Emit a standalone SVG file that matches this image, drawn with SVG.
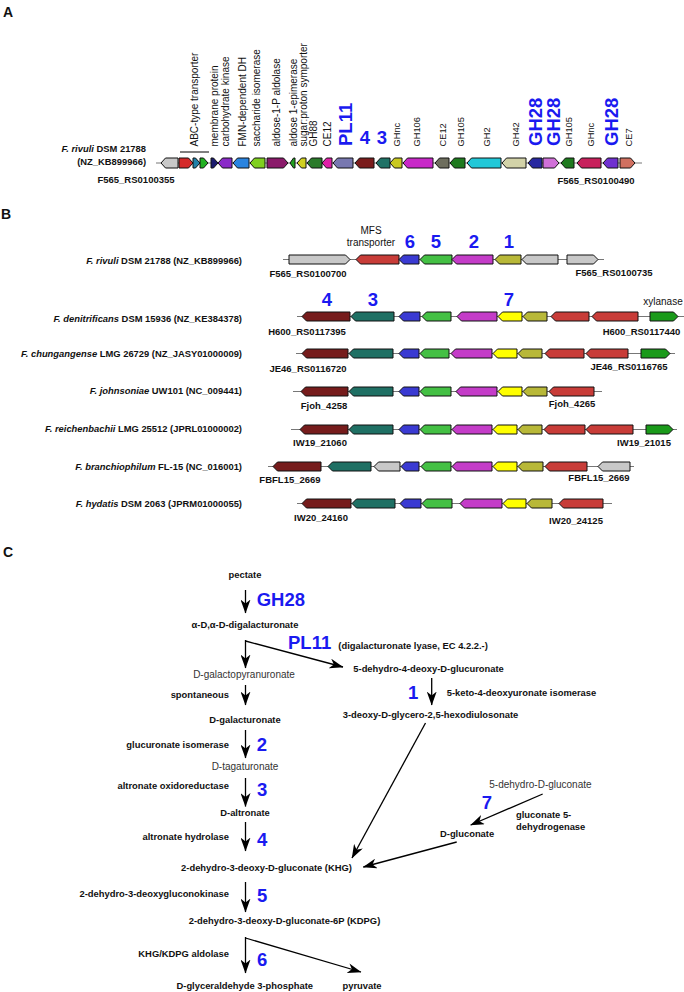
<svg xmlns="http://www.w3.org/2000/svg" width="684" height="992" viewBox="0 0 684 992">
<defs>
<marker id="ah" markerUnits="userSpaceOnUse" markerWidth="14" markerHeight="10" viewBox="0 0 14 10" refX="13.5" refY="5" orient="auto">
<path d="M0,0 L14,5 L0,10 L4,5 Z" fill="#000"/>
</marker>
</defs>
<style>
text{font-family:"Liberation Sans",Arial,Helvetica,sans-serif;fill:#111}
.pl{font-size:14px;font-weight:bold}
.sp{font-size:9.4px;font-weight:bold}
.lt{font-size:9.5px;font-weight:bold}
.ga{font-size:10px}
.gb{font-size:9.3px}
.bl{font-size:18.5px;font-weight:bold;fill:#1a1af0}
.cb{font-size:9.4px;font-weight:bold}
.cg{font-size:10px;fill:#333}
.bb{stroke:#777;stroke-width:1;fill:none}
polygon{stroke:#111;stroke-width:1}
.grey{fill:#c8c8c8}.red{fill:#c83c38}.blu{fill:#3a3ad2}.grn{fill:#44c044}.mag{fill:#c43cc8}.olv{fill:#b8b838}.yel{fill:#ffff00}.drd{fill:#761c1c}.tea{fill:#1f7064}.xgr{fill:#1a9a1a}
.ar{stroke:#000;stroke-width:1.3;fill:none;marker-end:url(#ah)}
</style>
<rect width="684" height="992" fill="#fff"/>

<!-- Panel A -->
<text class="pl" x="3" y="17">A</text>
<g id="A-labels">
<text class="sp" x="146" y="152" text-anchor="end"><tspan font-style="italic">F. rivuli</tspan> DSM 21788</text>
<text class="sp" x="146" y="164.5" text-anchor="end">(NZ_KB899966)</text>
<text class="lt" x="136" y="183" text-anchor="middle">F565_RS0100355</text>
<text class="lt" x="596" y="184" text-anchor="middle">F565_RS0100490</text>
<line x1="180" y1="152" x2="209" y2="152" stroke="#000" stroke-width="1"/>
<text class="ga" transform="translate(197.8,146.5) rotate(-90)">ABC-type transporter</text>
<text class="ga" transform="translate(217.5,146.5) rotate(-90)">membrane protein</text>
<text class="ga" transform="translate(229.2,146.5) rotate(-90)">carbohydrate kinase</text>
<text class="ga" transform="translate(245.5,146.5) rotate(-90)">FMN-dependent DH</text>
<text class="ga" transform="translate(260.2,146.5) rotate(-90)">saccharide isomerase</text>
<text class="ga" transform="translate(279.5,146.5) rotate(-90)">aldose-1-P aldolase</text>
<text class="ga" transform="translate(296.5,146.5) rotate(-90)">aldose 1-epimerase</text>
<text class="ga" transform="translate(306.5,146.5) rotate(-90)">sugar:proton symporter</text>
<text class="ga" transform="translate(316.5,146.5) rotate(-90)">GH88</text>
<text class="ga" transform="translate(330.5,146.5) rotate(-90)">CE12</text>
<text class="bl" transform="translate(351.7,146) rotate(-90)">PL11</text>
<text class="bl" x="365" y="143.5" text-anchor="middle">4</text>
<text class="bl" x="382" y="143.5" text-anchor="middle">3</text>
<text class="gb" transform="translate(399.5,146.5) rotate(-90)">GHnc</text>
<text class="gb" transform="translate(419.5,146.5) rotate(-90)">GH106</text>
<text class="gb" transform="translate(445.5,146.5) rotate(-90)">CE12</text>
<text class="gb" transform="translate(463.5,146.5) rotate(-90)">GH105</text>
<text class="gb" transform="translate(489.5,146.5) rotate(-90)">GH2</text>
<text class="gb" transform="translate(518.5,146.5) rotate(-90)">GH42</text>
<text class="bl" transform="translate(541.7,146) rotate(-90)">GH28</text>
<text class="bl" transform="translate(559.7,146) rotate(-90)">GH28</text>
<text class="gb" transform="translate(571.5,146.5) rotate(-90)">GH105</text>
<text class="gb" transform="translate(593.5,146.5) rotate(-90)">GHnc</text>
<text class="bl" transform="translate(617.7,146) rotate(-90)">GH28</text>
<text class="gb" transform="translate(631.5,146.5) rotate(-90)">CE7</text>
</g>
<g id="A-track">
<line class="bb" x1="156" y1="163" x2="642" y2="163"/>
<polygon fill="#c8c8c8" points="178,158 165.5,158 161,163 165.5,168 178,168"/>
<polygon fill="#d42a2a" points="179,158 188.5,158 193,163 188.5,168 179,168"/>
<polygon fill="#1f80a8" points="193,158 195.5,158 200,163 195.5,168 193,168"/>
<polygon fill="#22b022" points="200,158 203.5,158 208,163 203.5,168 200,168"/>
<polygon fill="#1c1c6e" points="211,158 213.5,158 218,163 213.5,168 211,168"/>
<polygon fill="#8a2ac8" points="232,158 222.5,158 218,163 222.5,168 232,168"/>
<polygon fill="#2a84e0" points="249,158 237.5,158 233,163 237.5,168 249,168"/>
<polygon fill="#80d020" points="265,158 254.5,158 250,163 254.5,168 265,168"/>
<polygon fill="#8a1a6a" points="267,158 283.5,158 288,163 283.5,168 267,168"/>
<polygon fill="#22a022" points="295,158 293.5,158 290,163 293.5,168 295,168"/>
<polygon fill="#d0d020" points="306,158 301.5,158 297,163 301.5,168 306,168"/>
<polygon fill="#2a7a2a" points="322,158 311.5,158 307,163 311.5,168 322,168"/>
<polygon fill="#e020a8" points="332,158 326.5,158 322,163 326.5,168 332,168"/>
<polygon fill="#7878b0" points="353,158 337.5,158 333,163 337.5,168 353,168"/>
<polygon fill="#7a1c1c" points="374,158 359.5,158 355,163 359.5,168 374,168"/>
<polygon fill="#1f7266" points="390,158 380.5,158 376,163 380.5,168 390,168"/>
<polygon fill="#c8c820" points="402,158 394.5,158 390,163 394.5,168 402,168"/>
<polygon fill="#c828c8" points="433,158 407.5,158 403,163 407.5,168 433,168"/>
<polygon fill="#6e6e5e" points="449,158 439.5,158 435,163 439.5,168 449,168"/>
<polygon fill="#1f7a1f" points="465,158 454.5,158 450,163 454.5,168 465,168"/>
<polygon fill="#22c8d8" points="501,158 471.5,158 467,163 471.5,168 501,168"/>
<polygon fill="#d2d2a8" points="526,158 506.5,158 502,163 506.5,168 526,168"/>
<polygon fill="#2828a0" points="542,158 532.5,158 528,163 532.5,168 542,168"/>
<polygon fill="#d070d8" points="543,158 554.5,158 559,163 554.5,168 543,168"/>
<polygon fill="#1f7a1f" points="574,158 565.5,158 561,163 565.5,168 574,168"/>
<polygon fill="#c8205c" points="601,158 581.5,158 577,163 581.5,168 601,168"/>
<polygon fill="#7030d0" points="618,158 607.5,158 603,163 607.5,168 618,168"/>
<polygon fill="#d07060" points="620,158 630.5,158 635,163 630.5,168 620,168"/>
</g>

<!-- Panel B -->
<text class="pl" x="1" y="219">B</text>
<g id="B-labels">
<text class="sp" x="242" y="264" text-anchor="end"><tspan font-style="italic">F. rivuli</tspan> DSM 21788 (NZ_KB899966)</text>
<text class="sp" x="242" y="322" text-anchor="end"><tspan font-style="italic">F. denitrificans</tspan> DSM 15936 (NZ_KE384378)</text>
<text class="sp" x="242" y="357" text-anchor="end"><tspan font-style="italic">F. chungangense</tspan> LMG 26729 (NZ_JASY01000009)</text>
<text class="sp" x="242" y="393.5" text-anchor="end"><tspan font-style="italic">F. johnsoniae</tspan> UW101 (NC_009441)</text>
<text class="sp" x="242" y="432" text-anchor="end"><tspan font-style="italic">F. reichenbachii</tspan> LMG 25512 (JPRL01000002)</text>
<text class="sp" x="242" y="470" text-anchor="end"><tspan font-style="italic">F. branchiophilum</tspan> FL-15 (NC_016001)</text>
<text class="sp" x="242" y="507" text-anchor="end"><tspan font-style="italic">F. hydatis</tspan> DSM 2063 (JPRM01000055)</text>
<text class="ga" x="371" y="234" text-anchor="middle">MFS</text>
<text class="ga" x="371" y="246" text-anchor="middle">transporter</text>
<text class="bl" x="410" y="248" text-anchor="middle">6</text>
<text class="bl" x="436" y="248" text-anchor="middle">5</text>
<text class="bl" x="474" y="248" text-anchor="middle">2</text>
<text class="bl" x="509" y="248" text-anchor="middle">1</text>
<text class="bl" x="327" y="306" text-anchor="middle">4</text>
<text class="bl" x="373" y="306" text-anchor="middle">3</text>
<text class="bl" x="509" y="306" text-anchor="middle">7</text>
<text class="ga" x="663" y="305" text-anchor="middle">xylanase</text>
<text class="lt" x="308" y="277" text-anchor="middle">F565_RS0100700</text>
<text class="lt" x="614" y="276" text-anchor="middle">F565_RS0100735</text>
<text class="lt" x="307" y="335" text-anchor="middle">H600_RS0117395</text>
<text class="lt" x="641.5" y="335" text-anchor="middle">H600_RS0117440</text>
<text class="lt" x="308" y="372" text-anchor="middle">JE46_RS0116720</text>
<text class="lt" x="629" y="370" text-anchor="middle">JE46_RS0116765</text>
<text class="lt" x="324" y="408.5" text-anchor="middle">Fjoh_4258</text>
<text class="lt" x="572" y="407" text-anchor="middle">Fjoh_4265</text>
<text class="lt" x="320" y="446" text-anchor="middle">IW19_21060</text>
<text class="lt" x="644" y="446" text-anchor="middle">IW19_21015</text>
<text class="lt" x="290" y="482.5" text-anchor="middle">FBFL15_2669</text>
<text class="lt" x="599" y="481" text-anchor="middle">FBFL15_2669</text>
<text class="lt" x="321" y="521" text-anchor="middle">IW20_24160</text>
<text class="lt" x="576" y="523.5" text-anchor="middle">IW20_24125</text>
</g>
<g id="B-row1">
<line class="bb" x1="283" y1="259.5" x2="604" y2="259.5"/>
<polygon class="grey" points="289,255 345.5,255 350,259.5 345.5,264 289,264"/>
<polygon class="red" points="399,255 360.5,255 356,259.5 360.5,264 399,264"/>
<polygon class="blu" points="419,255 403.5,255 399,259.5 403.5,264 419,264"/>
<polygon class="grn" points="452,255 424.5,255 420,259.5 424.5,264 452,264"/>
<polygon class="mag" points="493,255 456.5,255 452,259.5 456.5,264 493,264"/>
<polygon class="olv" points="521,255 499.5,255 495,259.5 499.5,264 521,264"/>
<polygon class="grey" points="558,255 526.5,255 522,259.5 526.5,264 558,264"/>
<polygon class="grey" points="567,255 593.5,255 598,259.5 593.5,264 567,264"/>
</g>
<g id="B-row2">
<line class="bb" x1="297" y1="316.5" x2="684" y2="316.5"/>
<polygon class="drd" points="350,312 306.5,312 302,316.5 306.5,321 350,321"/>
<polygon class="tea" points="394,312 355.5,312 351,316.5 355.5,321 394,321"/>
<polygon class="blu" points="420,312 403.5,312 399,316.5 403.5,321 420,321"/>
<polygon class="grn" points="451,312 426.5,312 422,316.5 426.5,321 451,321"/>
<polygon class="mag" points="497,312 461.5,312 457,316.5 461.5,321 497,321"/>
<polygon class="yel" points="522,312 502.5,312 498,316.5 502.5,321 522,321"/>
<polygon class="olv" points="547,312 527.5,312 523,316.5 527.5,321 547,321"/>
<polygon class="red" points="589,312 555.5,312 551,316.5 555.5,321 589,321"/>
<polygon class="red" points="638,312 596.5,312 592,316.5 596.5,321 638,321"/>
<polygon class="xgr" points="650,312 673.5,312 678,316.5 673.5,321 650,321"/>
</g>
<g id="B-row3">
<line class="bb" x1="296" y1="353.5" x2="675" y2="353.5"/>
<polygon class="drd" points="348,349 306.5,349 302,353.5 306.5,358 348,358"/>
<polygon class="tea" points="393,349 353.5,349 349,353.5 353.5,358 393,358"/>
<polygon class="blu" points="419,349 403.5,349 399,353.5 403.5,358 419,358"/>
<polygon class="grn" points="449,349 424.5,349 420,353.5 424.5,358 449,358"/>
<polygon class="mag" points="492,349 455.5,349 451,353.5 455.5,358 492,358"/>
<polygon class="yel" points="517,349 497.5,349 493,353.5 497.5,358 517,358"/>
<polygon class="olv" points="542,349 522.5,349 518,353.5 522.5,358 542,358"/>
<polygon class="red" points="584,349 549.5,349 545,353.5 549.5,358 584,358"/>
<polygon class="red" points="628,349 590.5,349 586,353.5 590.5,358 628,358"/>
<polygon class="xgr" points="641,349 665.5,349 670,353.5 665.5,358 641,358"/>
</g>
<g id="B-row4">
<line class="bb" x1="293" y1="391.5" x2="602" y2="391.5"/>
<polygon class="drd" points="348,387 305.5,387 301,391.5 305.5,396 348,396"/>
<polygon class="tea" points="393,387 353.5,387 349,391.5 353.5,396 393,396"/>
<polygon class="blu" points="419,387 403.5,387 399,391.5 403.5,396 419,396"/>
<polygon class="grn" points="451,387 424.5,387 420,391.5 424.5,396 451,396"/>
<polygon class="mag" points="497,387 460.5,387 456,391.5 460.5,396 497,396"/>
<polygon class="yel" points="522,387 502.5,387 498,391.5 502.5,396 522,396"/>
<polygon class="olv" points="547,387 527.5,387 523,391.5 527.5,396 547,396"/>
<polygon class="red" points="594,387 553.5,387 549,391.5 553.5,396 594,396"/>
</g>
<g id="B-row5">
<line class="bb" x1="291" y1="429.5" x2="677" y2="429.5"/>
<polygon class="drd" points="348,425 304.5,425 300,429.5 304.5,434 348,434"/>
<polygon class="tea" points="393,425 353.5,425 349,429.5 353.5,434 393,434"/>
<polygon class="blu" points="419,425 403.5,425 399,429.5 403.5,434 419,434"/>
<polygon class="grn" points="451,425 424.5,425 420,429.5 424.5,434 451,434"/>
<polygon class="mag" points="492,425 456.5,425 452,429.5 456.5,434 492,434"/>
<polygon class="yel" points="517,425 497.5,425 493,429.5 497.5,434 517,434"/>
<polygon class="olv" points="542,425 522.5,425 518,429.5 522.5,434 542,434"/>
<polygon class="red" points="585,425 548.5,425 544,429.5 548.5,434 585,434"/>
<polygon class="red" points="633,425 590.5,425 586,429.5 590.5,434 633,434"/>
<polygon class="xgr" points="646,425 668.5,425 673,429.5 668.5,434 646,434"/>
</g>
<g id="B-row6">
<line class="bb" x1="268" y1="466.5" x2="634" y2="466.5"/>
<polygon class="drd" points="321,462 277.5,462 273,466.5 277.5,471 321,471"/>
<polygon class="tea" points="371,462 332.5,462 328,466.5 332.5,471 371,471"/>
<polygon class="grey" points="400,462 378.5,462 374,466.5 378.5,471 400,471"/>
<polygon class="blu" points="419,462 405.5,462 401,466.5 405.5,471 419,471"/>
<polygon class="grn" points="451,462 425.5,462 421,466.5 425.5,471 451,471"/>
<polygon class="mag" points="492,462 456.5,462 452,466.5 456.5,471 492,471"/>
<polygon class="yel" points="517,462 497.5,462 493,466.5 497.5,471 517,471"/>
<polygon class="olv" points="543,462 522.5,462 518,466.5 522.5,471 543,471"/>
<polygon class="red" points="587,462 549.5,462 545,466.5 549.5,471 587,471"/>
<polygon class="grey" points="630,462 602.5,462 598,466.5 602.5,471 630,471"/>
</g>
<g id="B-row7">
<line class="bb" x1="297" y1="503.5" x2="612" y2="503.5"/>
<polygon class="drd" points="351,499 306.5,499 302,503.5 306.5,508 351,508"/>
<polygon class="tea" points="395,499 356.5,499 352,503.5 356.5,508 395,508"/>
<polygon class="blu" points="421,499 404.5,499 400,503.5 404.5,508 421,508"/>
<polygon class="grn" points="452,499 426.5,499 422,503.5 426.5,508 452,508"/>
<polygon class="mag" points="502,499 464.5,499 460,503.5 464.5,508 502,508"/>
<polygon class="yel" points="526,499 507.5,499 503,503.5 507.5,508 526,508"/>
<polygon class="olv" points="552,499 531.5,499 527,503.5 531.5,508 552,508"/>
<polygon class="red" points="603,499 563.5,499 559,503.5 563.5,508 603,508"/>
</g>

<!-- Panel C -->
<text class="pl" x="3" y="557">C</text>
<g id="C-nodes">
<g id="n-pectate"><text class="cb" x="245" y="578" text-anchor="middle">pectate</text></g>
<g id="n-digal"><text class="cb" x="245" y="628" text-anchor="middle">α-D,α-D-digalacturonate</text></g>
<g id="n-galpyr"><text class="cg" x="244" y="678" text-anchor="middle">D-galactopyranuronate</text></g>
<g id="n-galact"><text class="cb" x="245" y="723" text-anchor="middle">D-galacturonate</text></g>
<g id="n-tagat"><text class="cg" x="245" y="770" text-anchor="middle">D-tagaturonate</text></g>
<g id="n-altro"><text class="cb" x="245" y="816" text-anchor="middle">D-altronate</text></g>
<g id="n-khg"><text class="cb" x="266.5" y="871" text-anchor="middle">2-dehydro-3-deoxy-D-gluconate (KHG)</text></g>
<g id="n-kdpg"><text class="cb" x="284.5" y="924" text-anchor="middle">2-dehydro-3-deoxy-D-gluconate-6P (KDPG)</text></g>
<g id="n-g3p"><text class="cb" x="176.5" y="989">D-glyceraldehyde 3-phosphate</text></g>
<g id="n-pyr"><text class="cb" x="342.5" y="989">pyruvate</text></g>
<g id="n-dhdg"><text class="cb" x="353.3" y="672">5-dehydro-4-deoxy-D-glucuronate</text></g>
<g id="n-hexo"><text class="cb" x="342.7" y="718">3-deoxy-D-glycero-2,5-hexodiulosonate</text></g>
<g id="n-5dhg"><text class="cg" x="489.3" y="788">5-dehydro-D-gluconate</text></g>
<g id="n-glcn"><text class="cb" x="440" y="837">D-gluconate</text></g>
</g>
<g id="C-enzymes">
<text class="cb" x="229" y="698" text-anchor="end">spontaneous</text>
<text class="cb" x="229" y="748" text-anchor="end">glucuronate isomerase</text>
<text class="cb" x="229" y="789" text-anchor="end">altronate oxidoreductase</text>
<text class="cb" x="229" y="840" text-anchor="end">altronate hydrolase</text>
<text class="cb" x="229" y="897" text-anchor="end">2-dehydro-3-deoxygluconokinase</text>
<text class="cb" x="229" y="957" text-anchor="end">KHG/KDPG aldolase</text>
<text class="cb" x="338.3" y="649">(digalacturonate lyase, EC 4.2.2.-)</text>
<text class="cb" x="446.7" y="696">5-keto-4-deoxyuronate isomerase</text>
<text class="cb" x="516" y="818">gluconate 5-</text>
<text class="cb" x="516" y="830">dehydrogenase</text>
<text class="bl" x="256.7" y="606">GH28</text>
<text class="bl" x="288" y="649">PL11</text>
<text class="bl" x="408" y="699">1</text>
<text class="bl" x="256.7" y="750.5">2</text>
<text class="bl" x="257" y="796">3</text>
<text class="bl" x="257" y="846">4</text>
<text class="bl" x="257" y="901.5">5</text>
<text class="bl" x="257" y="966">6</text>
<text class="bl" x="481.7" y="809">7</text>
</g>
<g id="C-connectors">
<line class="ar" x1="245.5" y1="590" x2="245.5" y2="613"/>
<line class="ar" x1="245.5" y1="640" x2="245.5" y2="668"/>
<line class="ar" x1="245.5" y1="641" x2="343" y2="667"/>
<line class="ar" x1="245.5" y1="685" x2="245.5" y2="705"/>
<line class="ar" x1="245.5" y1="730" x2="245.5" y2="758"/>
<line class="ar" x1="245.5" y1="778" x2="245.5" y2="806.5"/>
<line class="ar" x1="245.5" y1="822" x2="245.5" y2="851"/>
<line class="ar" x1="245.5" y1="882" x2="245.5" y2="912"/>
<line class="ar" x1="245.5" y1="937" x2="245.5" y2="973"/>
<line class="ar" x1="245.5" y1="938" x2="361" y2="972"/>
<line class="ar" x1="431.7" y1="678" x2="431.7" y2="705"/>
<line class="ar" x1="425.5" y1="723" x2="352" y2="858" stroke-width="0.8"/>
<line class="ar" x1="542.7" y1="794" x2="470.7" y2="825"/>
<line class="ar" x1="456.7" y1="842" x2="363.3" y2="867"/>
</g>
</svg>
